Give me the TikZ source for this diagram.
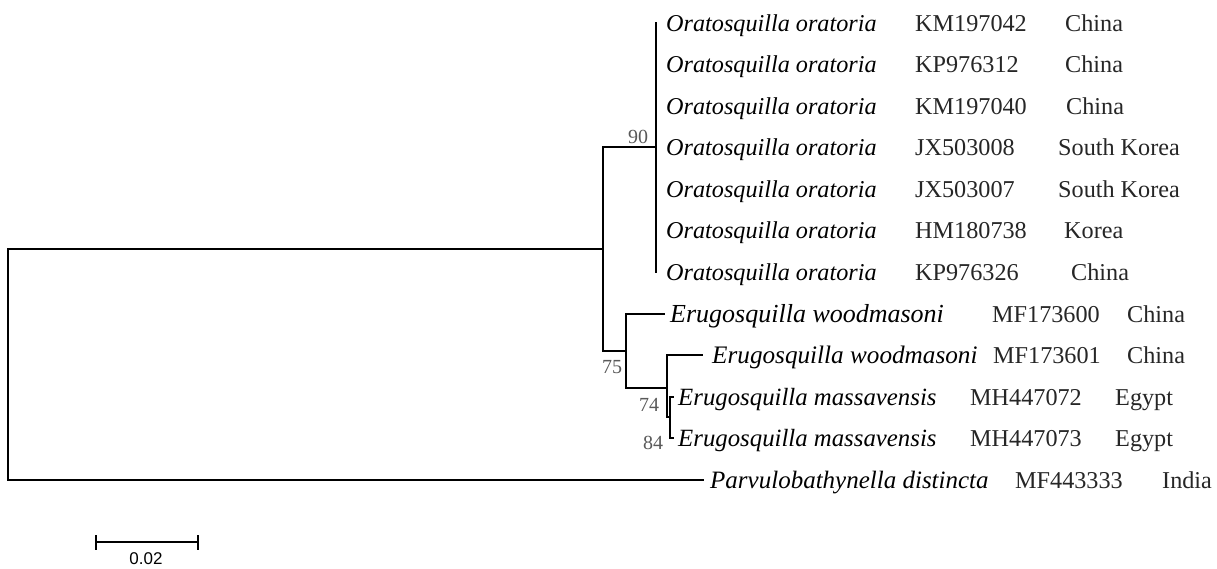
\documentclass[tikz,border=0pt]{standalone}
\usepackage{fontspec}
\setmainfont{Liberation Serif}
\newfontfamily\barfont{Liberation Sans}
\begin{document}
\begin{tikzpicture}[x=1pt,y=-1pt,
  branch/.style={line width=2pt, line cap=rect},
  taxon/.style={inner sep=0pt, anchor=base west, font=\fontsize{24.2}{28}\selectfont\itshape},
  acc/.style={inner sep=0pt, anchor=base west, font=\fontsize{24.2}{28}\selectfont, text=black!85},
  boot/.style={inner sep=0pt, anchor=center, font=\fontsize{20}{24}\selectfont, text=black!65},
  scalebar/.style={line width=2pt}]
\useasboundingbox (0,0) rectangle (1217,569);

% internal nodes
\coordinate (root) at (8,364.4);
\coordinate (nA) at (603,249.25);
\coordinate (nO) at (656,147.5);
\coordinate (nE) at (626,351);
\coordinate (nF) at (667,387.5);
\coordinate (nG) at (670,417.25);

% tips
\coordinate (t0) at (656,23);
\coordinate (t1) at (656,64.5);
\coordinate (t2) at (656,106);
\coordinate (t3) at (656,147.5);
\coordinate (t4) at (656,189);
\coordinate (t5) at (656,230.5);
\coordinate (t6) at (656,272);
\coordinate (t7) at (664,313.5);
\coordinate (t8) at (702,355);
\coordinate (t9) at (673,396.5);
\coordinate (t10) at (673,438);
\coordinate (t11) at (703,479.5);

% branches
\draw[branch] (root) |- (nA);
\draw[branch] (root) |- (t11);
\draw[branch] (nA) |- (nO);
\draw[branch] (nA) |- (nE);
\draw[branch] (nO) |- (t0);
\draw[branch] (nO) |- (t6);
\draw[branch] (nE) |- (t7);
\draw[branch] (nE) |- (nF);
\draw[branch] (nF) |- (t8);
\draw[branch] (nF) |- (nG);
\draw[branch] (nG) |- (t9);
\draw[branch] (nG) |- (t10);

% bootstrap values
\node[boot] (b90) at (638,137) {90};
\node[boot] (b75) at (612,367) {75};
\node[boot] (b74) at (649,405) {74};
\node[boot] (b84) at (653,443) {84};

% taxon names
\node[taxon] (s0) at (666,31.5) {Oratosquilla oratoria};
\node[taxon] (s1) at (666,73) {Oratosquilla oratoria};
\node[taxon] (s2) at (666,114.5) {Oratosquilla oratoria};
\node[taxon] (s3) at (666,156) {Oratosquilla oratoria};
\node[taxon] (s4) at (666,197.5) {Oratosquilla oratoria};
\node[taxon] (s5) at (666,239) {Oratosquilla oratoria};
\node[taxon] (s6) at (666,280.5) {Oratosquilla oratoria};
\node[taxon, font=\fontsize{26}{30}\selectfont\itshape] (s7) at (670,322) {Erugosquilla woodmasoni};
\node[taxon, font=\fontsize{25.2}{30}\selectfont\itshape] (s8) at (712,363.5) {Erugosquilla woodmasoni};
\node[taxon, font=\fontsize{24.8}{30}\selectfont\itshape] (s9) at (678,405) {Erugosquilla massavensis};
\node[taxon, font=\fontsize{24.8}{30}\selectfont\itshape] (s10) at (678,446.5) {Erugosquilla massavensis};
\node[taxon, font=\fontsize{25}{30}\selectfont\itshape] (s11) at (710,488) {Parvulobathynella distincta};

% accessions
\node[acc] (a0) at (915,31.5) {KM197042};
\node[acc] (a1) at (915,73) {KP976312};
\node[acc] (a2) at (915,114.5) {KM197040};
\node[acc] (a3) at (915,156) {JX503008};
\node[acc] (a4) at (915,197.5) {JX503007};
\node[acc] (a5) at (915,239) {HM180738};
\node[acc] (a6) at (915,280.5) {KP976326};
\node[acc] (a7) at (992,322) {MF173600};
\node[acc] (a8) at (993,363.5) {MF173601};
\node[acc] (a9) at (970,405) {MH447072};
\node[acc] (a10) at (970,446.5) {MH447073};
\node[acc] (a11) at (1015,488) {MF443333};

% countries
\node[acc] (c0) at (1065,31.5) {China};
\node[acc] (c1) at (1065,73) {China};
\node[acc] (c2) at (1066,114.5) {China};
\node[acc] (c3) at (1058,156) {South Korea};
\node[acc] (c4) at (1058,197.5) {South Korea};
\node[acc] (c5) at (1064,239) {Korea};
\node[acc] (c6) at (1071,280.5) {China};
\node[acc] (c7) at (1127,322) {China};
\node[acc] (c8) at (1127,363.5) {China};
\node[acc] (c9) at (1115,405) {Egypt};
\node[acc] (c10) at (1115,446.5) {Egypt};
\node[acc] (c11) at (1162,488) {India};

% scale bar
\coordinate (sb1) at (96,542);
\coordinate (sb2) at (198,542);
\draw[scalebar] (sb1) -- (sb2);
\draw[scalebar] ([yshift=-7.5pt]sb1) -- ([yshift=7.5pt]sb1);
\draw[scalebar] ([yshift=-7.5pt]sb2) -- ([yshift=7.5pt]sb2);
\node[inner sep=0pt, font=\barfont\fontsize{17}{20}\selectfont] (sblab) at (146,559) {0.02};
\end{tikzpicture}
\end{document}
